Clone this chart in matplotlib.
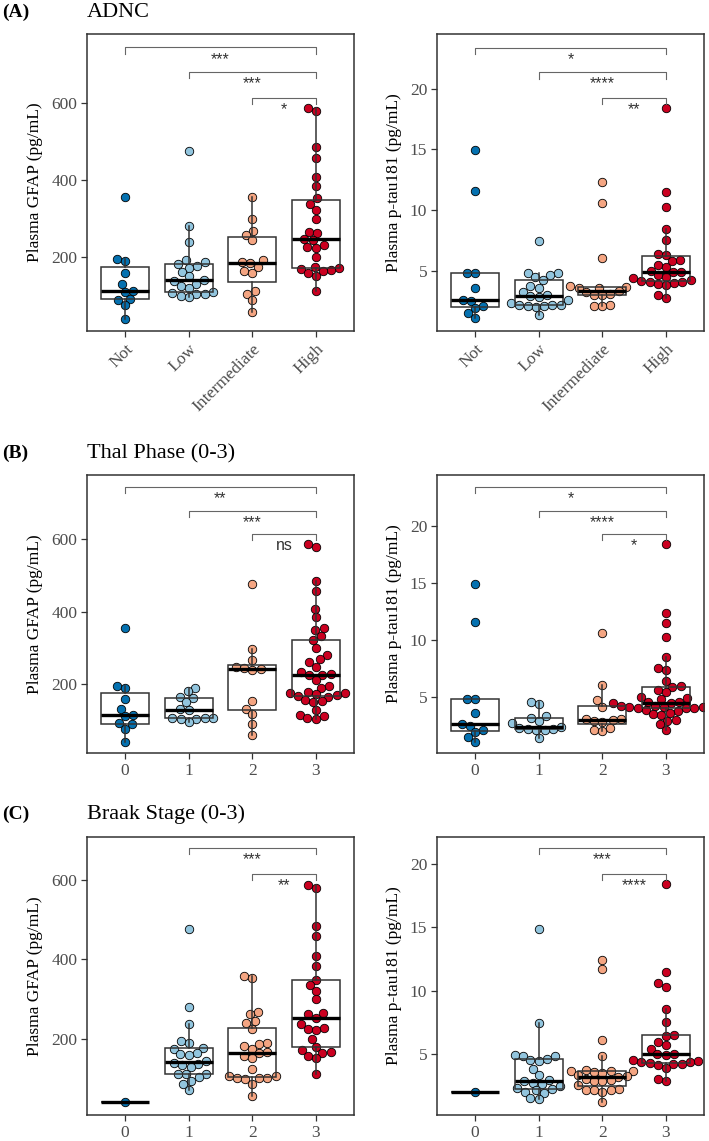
import numpy as np
import matplotlib
matplotlib.use('Agg')
import matplotlib.pyplot as plt

plt.rcParams['font.family'] = 'Liberation Serif'

colors = ['#0571B0', '#92C5DE', '#F4A582', '#CA0020']
adnc_names = ['Not', 'Low', 'Intermediate', 'High']
stage_names = ['0', '1', '2', '3']

# --- ADNC ---
adnc_gfap_not = [355, 195, 190, 158, 130, 113, 110, 92, 88, 75, 40]
adnc_gfap_low = [476, 281, 238, 192, 188, 182, 178, 172, 162, 150, 140, 138, 130, 125, 120, 108, 106, 105, 104, 100, 95]
adnc_gfap_int = [355, 298, 268, 258, 245, 192, 188, 184, 175, 165, 158, 112, 105, 88, 57]
adnc_gfap_high = [588, 580, 485, 458, 408, 385, 352, 338, 322, 300, 266, 262, 248, 244, 230, 226, 224, 200,
                  175, 172, 170, 167, 165, 158, 152, 112]

adnc_ptau_not = [14.9, 11.6, 4.8, 4.8, 3.6, 2.6, 2.5, 2.1, 1.9, 1.5, 1.1]
adnc_ptau_low = [7.4, 4.8, 4.8, 4.6, 4.5, 4.2, 3.7, 3.6, 3.2, 3.0, 2.9, 2.8, 2.6, 2.3, 2.2, 2.2, 2.2, 2.1, 2.1, 2.0, 1.35]
adnc_ptau_int = [12.3, 10.6, 6.0, 3.7, 3.65, 3.6, 3.55, 3.3, 3.2, 3.1, 3.0, 2.95, 2.2, 2.1, 2.05]
adnc_ptau_high = [18.4, 11.5, 10.2, 8.4, 7.5, 6.4, 6.3, 5.9, 5.8, 5.5, 5.3, 5.0, 4.9, 4.9, 4.6, 4.5, 4.4,
                  4.2, 4.15, 4.1, 4.1, 4.0, 3.9, 3.8, 3.0, 2.7]

# --- Thal phase ---
thal_gfap_0 = [355, 195, 190, 158, 130, 113, 110, 92, 88, 75, 40]
thal_gfap_1 = [190, 180, 165, 162, 150, 130, 128, 106, 105, 105, 104, 103, 95]
thal_gfap_2 = [476, 297, 267, 248, 245, 242, 238, 152, 132, 116, 90, 58]
thal_gfap_3 = [588, 580, 485, 458, 408, 385, 355, 350, 332, 322, 300, 280, 268, 262, 248, 232, 228, 225, 224,
               210, 195, 190, 178, 175, 174, 172, 170, 168, 165, 155, 152, 150, 128, 115, 112, 105, 104]

thal_ptau_0 = [14.9, 11.6, 4.8, 4.8, 3.6, 2.6, 2.5, 2.1, 1.9, 1.5, 1.1]
thal_ptau_1 = [4.6, 4.4, 3.3, 3.2, 2.9, 2.7, 2.4, 2.3, 2.2, 2.2, 2.15, 2.1, 1.4]
thal_ptau_2 = [10.6, 6.05, 4.7, 4.1, 3.1, 3.05, 3.0, 2.9, 2.8, 2.3, 2.1, 2.0]
thal_ptau_3 = [18.4, 12.4, 11.5, 10.3, 8.5, 7.5, 7.4, 6.4, 6.0, 5.9, 5.6, 5.4, 5.0, 4.9, 4.8, 4.6, 4.55,
               4.5, 4.5, 4.3, 4.2, 4.2, 4.15, 4.1, 4.1, 4.05, 4.0, 4.0, 3.9, 3.8, 3.6, 3.5, 3.4, 3.0, 2.9, 2.6, 2.1]

# --- Braak stage ---
braak_gfap_0 = [41]
braak_gfap_1 = [476, 281, 238, 195, 190, 178, 175, 165, 162, 160, 145, 140, 138, 135, 130, 113, 112, 112,
                104, 95, 88, 72]
braak_gfap_2 = [358, 354, 268, 262, 245, 240, 225, 190, 188, 182, 175, 168, 164, 158, 152, 125, 108, 106,
                103, 102, 101, 100, 88, 56]
braak_gfap_3 = [587, 581, 484, 458, 409, 384, 348, 336, 322, 300, 266, 263, 254, 238, 228, 225, 222, 200,
                181, 172, 168, 165, 158, 152, 111]

braak_ptau_0 = [2.0]
braak_ptau_1 = [14.9, 7.4, 4.9, 4.85, 4.8, 4.6, 4.5, 4.4, 3.8, 3.3, 2.9, 2.8, 2.7, 2.6, 2.4, 2.3, 2.2, 2.1,
                2.0, 1.9, 1.5, 1.4]
braak_ptau_2 = [12.4, 11.7, 6.05, 4.8, 3.7, 3.65, 3.6, 3.6, 3.55, 3.5, 3.3, 3.2, 3.15, 3.0, 2.9, 2.85, 2.8,
                2.5, 2.2, 2.15, 2.1, 2.1, 2.0, 1.2]
braak_ptau_3 = [18.4, 11.5, 10.6, 10.3, 8.5, 7.5, 6.5, 6.4, 5.9, 5.7, 5.35, 5.0, 4.95, 4.9, 4.5, 4.4, 4.35,
                4.3, 4.25, 4.2, 4.2, 4.1, 3.9, 3.0, 2.8]

W, H = 709, 1141
fig = plt.figure(figsize=(W / 100, H / 100), dpi=100)


def add_ax(left, top, w, h):
    return fig.add_axes([left / W, 1 - (top + h) / H, w / W, h / H])


def swarm_x(vals, center, ax, d):
    # simple beeswarm in pixel space
    pts = ax.transData.transform(np.column_stack([np.full(len(vals), center), vals]))
    x0 = pts[0, 0]
    order = np.argsort(pts[:, 1], kind='stable')
    placed = []
    xs = np.zeros(len(vals))
    for i in order:
        y = pts[i, 1]
        near = [(px, py) for px, py in placed if abs(py - y) < d]
        cands = [x0]
        for px, py in near:
            dx = np.sqrt(d ** 2 - (py - y) ** 2)
            cands += [px - dx, px + dx]
        cands.sort(key=lambda c: abs(c - x0))
        for c in cands:
            if all((c - px) ** 2 + (y - py) ** 2 >= d ** 2 - 1e-6 for px, py in near):
                break
        placed.append((c, y))
        xs[i] = c
    return ax.transData.inverted().transform(np.column_stack([xs, pts[:, 1]]))[:, 0]


def panel(ax, groups, names, ylim, yticks, ylabel, brackets, rotate=False):
    ax.set_xlim(-0.6, 3.6)
    ax.set_ylim(*ylim)
    for k, g in enumerate(groups):
        xs = swarm_x(g, k, ax, 8.4)
        ax.scatter(xs, g, s=37, color=colors[k], edgecolors='black', linewidths=0.6, zorder=2)
    ax.boxplot(groups, positions=range(len(groups)), widths=0.75, showfliers=False, showcaps=False,
               patch_artist=True, manage_ticks=False, zorder=4,
               boxprops=dict(facecolor='none', edgecolor='#333333', linewidth=1.1),
               whiskerprops=dict(color='#333333', linewidth=1.1),
               medianprops=dict(color='black', linewidth=2.4))
    tip = 0.021 * (ylim[1] - ylim[0])
    for x1, x2, y, lab in brackets:
        ax.plot([x1, x1, x2, x2], [y - tip, y, y, y - tip], color='#666666', lw=0.8, zorder=5)
        ax.annotate(lab, xy=((x1 + x2) / 2, y), xytext=(0, -3), textcoords='offset points',
                    ha='center', va='top', fontsize=11.5, family='Liberation Sans', color='#333333')
    ax.set_xticks(range(4))
    if rotate:
        ax.set_xticklabels(names, rotation=45, ha='right', va='top', rotation_mode='anchor')
    else:
        ax.set_xticklabels(names)
    ax.set_yticks(yticks)
    ax.set_ylabel(ylabel, fontsize=12.5, labelpad=6)
    ax.tick_params(direction='out', length=4, width=0.9, color='#333333',
                   labelsize=12.5, labelcolor='#4D4D4D', pad=3)
    for s in ax.spines.values():
        s.set_color('#333333')
        s.set_linewidth(1.1)


gfap_lab = 'Plasma GFAP (pg/mL)'
ptau_lab = 'Plasma p-tau181 (pg/mL)'

# row A
ax = add_ax(87, 34, 267, 297)
panel(ax, [adnc_gfap_not, adnc_gfap_low, adnc_gfap_int, adnc_gfap_high], adnc_names, (8, 779),
      [200, 400, 600], gfap_lab, [(0, 3, 744, '***'), (1, 3, 680, '***'), (2, 3, 614, '*')], rotate=True)
ax = add_ax(437, 34, 267, 297)
panel(ax, [adnc_ptau_not, adnc_ptau_low, adnc_ptau_int, adnc_ptau_high], adnc_names, (0.02, 24.5),
      [5, 10, 15, 20], ptau_lab, [(0, 3, 23.36, '*'), (1, 3, 21.33, '****'), (2, 3, 19.24, '**')], rotate=True)

# row B
ax = add_ax(87, 475, 267, 278)
panel(ax, [thal_gfap_0, thal_gfap_1, thal_gfap_2, thal_gfap_3], stage_names, (9, 778),
      [200, 400, 600], gfap_lab, [(0, 3, 744, '**'), (1, 3, 678, '***'), (2, 3, 614, 'ns')])
ax = add_ax(437, 475, 267, 278)
panel(ax, [thal_ptau_0, thal_ptau_1, thal_ptau_2, thal_ptau_3], stage_names, (0.1, 24.44),
      [5, 10, 15, 20], ptau_lab, [(0, 3, 23.39, '*'), (1, 3, 21.29, '****'), (2, 3, 19.25, '*')])

# row C
ax = add_ax(87, 837, 267, 278)
panel(ax, [braak_gfap_0, braak_gfap_1, braak_gfap_2, braak_gfap_3], stage_names, (9, 708),
      [200, 400, 600], gfap_lab, [(1, 3, 680, '***'), (2, 3, 614, '**')])
ax = add_ax(437, 837, 267, 278)
panel(ax, [braak_ptau_0, braak_ptau_1, braak_ptau_2, braak_ptau_3], stage_names, (0.14, 22.16),
      [5, 10, 15, 20], ptau_lab, [(1, 3, 21.27, '***'), (2, 3, 19.2, '****')])

# panel titles
for tag, title, base in [('(A)', 'ADNC', 17), ('(B)', 'Thal Phase (0-3)', 458), ('(C)', 'Braak Stage (0-3)', 819)]:
    fig.text(2 / W, 1 - base / H, tag, fontsize=14, fontweight='bold', va='baseline')
    fig.text(87 / W, 1 - base / H, title, fontsize=16, va='baseline')

fig.savefig('out.png', dpi=100)
